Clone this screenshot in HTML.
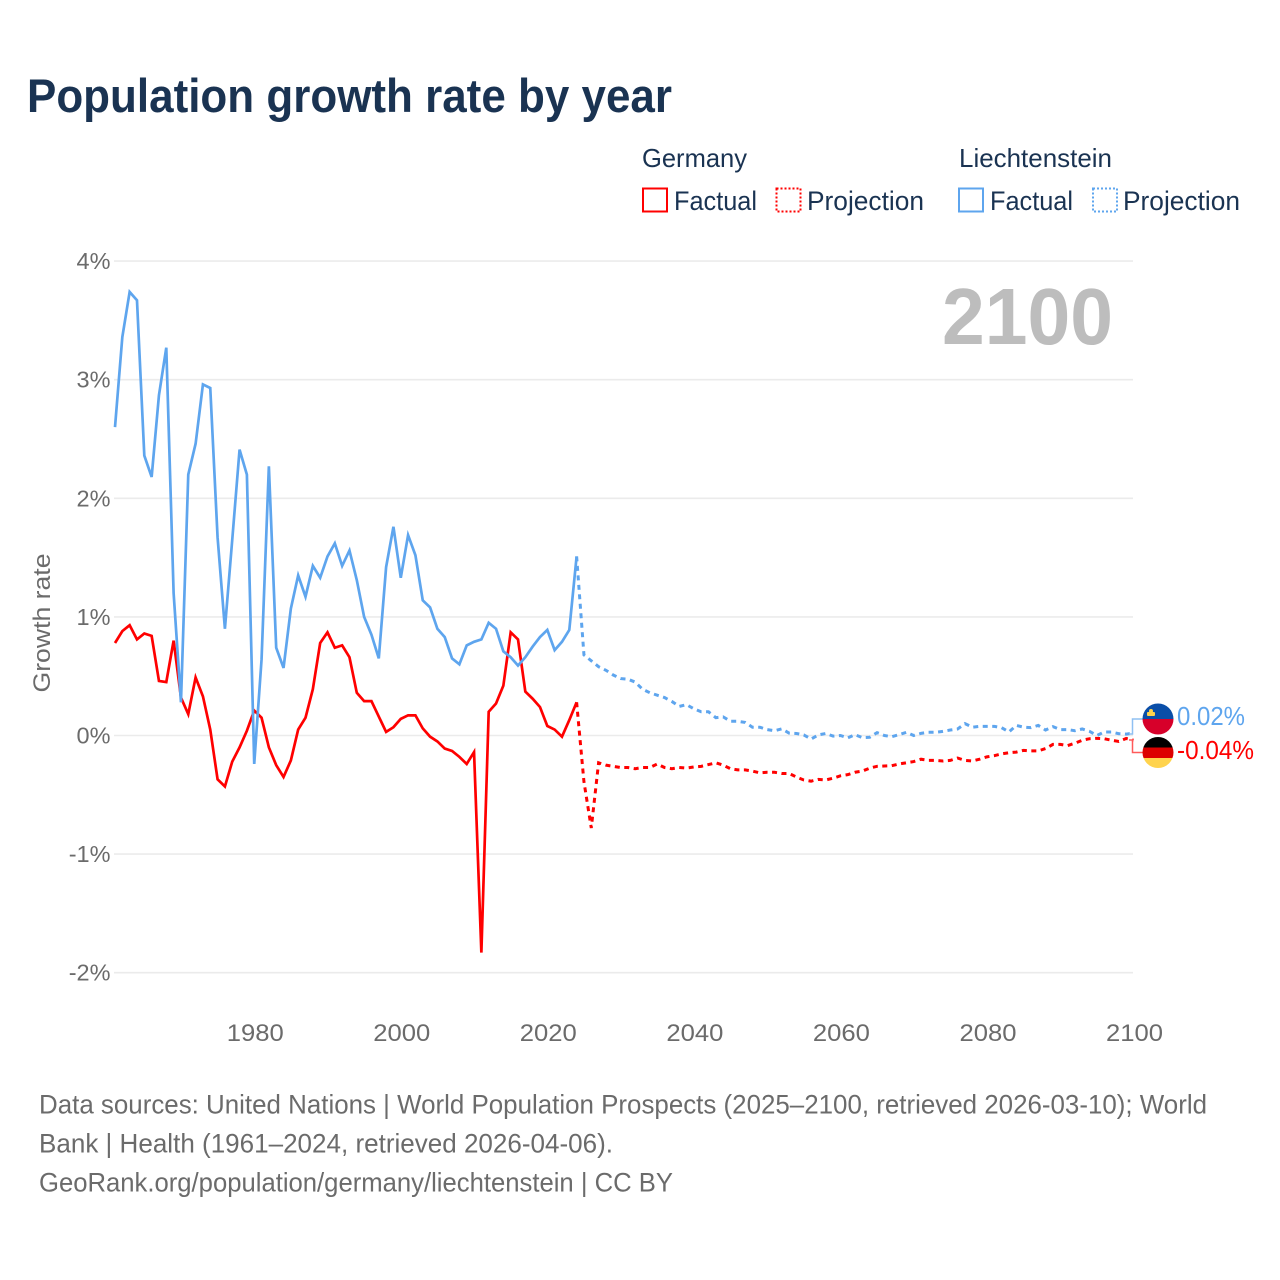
<!DOCTYPE html>
<html lang="en">
<head>
<meta charset="utf-8">
<title>Population growth rate by year</title>
<style>
  html, body { margin: 0; padding: 0; background: #fff; }
  svg { display: block; }
  text { font-family: "Liberation Sans", sans-serif; }
</style>
</head>
<body>
<svg id="chart" xmlns="http://www.w3.org/2000/svg" width="1280" height="1280" viewBox="0 0 1280 1280">
  <defs>
    <clipPath id="li-clip"><circle cx="1158" cy="719" r="15.5"/></clipPath>
    <clipPath id="de-clip"><circle cx="1158" cy="752.5" r="15.5"/></clipPath>
  </defs>

  <text x="27" y="112" font-size="47" font-weight="700" fill="#1a3352" textLength="645" lengthAdjust="spacingAndGlyphs">Population growth rate by year</text>

  <text x="642" y="167" font-size="26" fill="#1a3352" textLength="105" lengthAdjust="spacingAndGlyphs">Germany</text>
  <text x="959" y="167" font-size="26" fill="#1a3352" textLength="153" lengthAdjust="spacingAndGlyphs">Liechtenstein</text>

  <g>
    <rect x="643" y="188.5" width="24" height="23" fill="none" stroke="#ff0000" stroke-width="2"/>
    <text x="674" y="210" font-size="27" fill="#1a3352" textLength="83" lengthAdjust="spacingAndGlyphs">Factual</text>
  </g>
  <g>
    <rect x="776.5" y="188.5" width="24" height="23" fill="none" stroke="#ff0000" stroke-width="2" stroke-dasharray="2 2"/>
    <text x="807" y="210" font-size="27" fill="#1a3352" textLength="117" lengthAdjust="spacingAndGlyphs">Projection</text>
  </g>
  <g>
    <rect x="959" y="188.5" width="24" height="23" fill="none" stroke="#5ea5ee" stroke-width="2"/>
    <text x="990" y="210" font-size="27" fill="#1a3352" textLength="83" lengthAdjust="spacingAndGlyphs">Factual</text>
  </g>
  <g>
    <rect x="1093" y="188.5" width="24" height="23" fill="none" stroke="#5ea5ee" stroke-width="2" stroke-dasharray="2 2"/>
    <text x="1123" y="210" font-size="27" fill="#1a3352" textLength="117" lengthAdjust="spacingAndGlyphs">Projection</text>
  </g>

  <g id="grid"></g>
  <g id="y-ticks"></g>
  <g id="x-ticks"></g>

  <text transform="translate(50,623) rotate(-90)" text-anchor="middle" font-size="24" fill="#6b6b6b" textLength="139" lengthAdjust="spacingAndGlyphs">Growth rate</text>

  <text x="1113" y="344" text-anchor="end" font-size="80" font-weight="700" fill="#bdbdbd" textLength="171" lengthAdjust="spacingAndGlyphs">2100</text>

  <g id="series"></g>

  <polyline points="1129,734 1132.5,734 1132.5,719 1143,719" fill="none" stroke="#8fc0f2" stroke-width="1.5"/>
  <polyline points="1129,740 1132.5,740 1132.5,752.5 1143,752.5" fill="none" stroke="#ff5a5a" stroke-width="1.5"/>

  <g clip-path="url(#li-clip)">
    <rect x="1142" y="703" width="32" height="16" fill="#0a4ea8"/>
    <rect x="1142" y="719" width="32" height="16" fill="#d7002a"/>
    <rect x="1147" y="712" width="8" height="4" rx="1" fill="#ffd34d"/>
    <circle cx="1151" cy="711" r="2" fill="#ffd34d"/>
  </g>
  <g clip-path="url(#de-clip)">
    <rect x="1142" y="737" width="32" height="10.5" fill="#000000"/>
    <rect x="1142" y="747.5" width="32" height="10.5" fill="#dd0000"/>
    <rect x="1142" y="758" width="32" height="11" fill="#ffd34d"/>
  </g>

  <text x="1177" y="725" font-size="26" fill="#5ea5ee" textLength="68" lengthAdjust="spacingAndGlyphs">0.02%</text>
  <text x="1177" y="759" font-size="26" fill="#ff0000" textLength="77" lengthAdjust="spacingAndGlyphs">-0.04%</text>

  <text x="39" y="1113.5" font-size="27" fill="#6b6b6b" textLength="1168" lengthAdjust="spacingAndGlyphs">Data sources: United Nations | World Population Prospects (2025–2100, retrieved 2026-03-10); World</text>
  <text x="39" y="1152.5" font-size="27" fill="#6b6b6b" textLength="574" lengthAdjust="spacingAndGlyphs">Bank | Health (1961–2024, retrieved 2026-04-06).</text>
  <text x="39" y="1191.5" font-size="27" fill="#6b6b6b" textLength="634" lengthAdjust="spacingAndGlyphs">GeoRank.org/population/germany/liechtenstein | CC BY</text>
</svg>

<script>
const factualStartYear = 1961;
const projectionStartYear = 2024;

const germanyFactual = [
  0.78, 0.88, 0.93, 0.81, 0.86, 0.84, 0.46, 0.45, 0.80, 0.32,
  0.18, 0.49, 0.33, 0.05, -0.37, -0.43, -0.22, -0.10, 0.04, 0.21,
  0.15, -0.10, -0.25, -0.35, -0.21, 0.05, 0.15, 0.39, 0.78, 0.87,
  0.74, 0.76, 0.66, 0.36, 0.29, 0.29, 0.16, 0.03, 0.07, 0.14,
  0.17, 0.17, 0.06, -0.01, -0.05, -0.11, -0.13, -0.18, -0.24, -0.14,
  -1.83, 0.20, 0.27, 0.42, 0.87, 0.81, 0.37, 0.31, 0.24, 0.08,
  0.05, -0.01, 0.13, 0.28
];

const liechtensteinFactual = [
  2.60, 3.36, 3.74, 3.67, 2.36, 2.18, 2.87, 3.27, 1.20, 0.28,
  2.20, 2.46, 2.96, 2.93, 1.67, 0.90, 1.65, 2.41, 2.20, -0.24,
  0.64, 2.27, 0.74, 0.57, 1.07, 1.35, 1.17, 1.43, 1.33, 1.51,
  1.62, 1.43, 1.56, 1.31, 1.00, 0.85, 0.65, 1.42, 1.76, 1.33,
  1.69, 1.52, 1.14, 1.08, 0.90, 0.83, 0.65, 0.60, 0.76, 0.79,
  0.81, 0.95, 0.90, 0.71, 0.66, 0.59, 0.66, 0.75, 0.83, 0.89,
  0.72, 0.79, 0.89, 1.51
];

const germanyProjection = [
  0.28, -0.39, -0.78, -0.23, -0.25, -0.26, -0.27, -0.27, -0.28, -0.27,
  -0.27, -0.24, -0.27, -0.28, -0.27, -0.275, -0.265, -0.26, -0.245, -0.23,
  -0.25, -0.28, -0.29, -0.29, -0.30, -0.315, -0.31, -0.31, -0.32, -0.32,
  -0.35, -0.375, -0.385, -0.37, -0.375, -0.36, -0.34, -0.33, -0.31, -0.30,
  -0.275, -0.26, -0.257, -0.255, -0.24, -0.23, -0.22, -0.20, -0.21, -0.21,
  -0.215, -0.21, -0.19, -0.21, -0.215, -0.20, -0.18, -0.17, -0.155, -0.145,
  -0.14, -0.125, -0.13, -0.13, -0.11, -0.075, -0.075, -0.085, -0.065, -0.04,
  -0.027, -0.024, -0.027, -0.04, -0.05, -0.025, -0.04
];

const liechtensteinProjection = [
  1.51, 0.68, 0.63, 0.58, 0.55, 0.51, 0.48, 0.475, 0.45, 0.39,
  0.36, 0.34, 0.32, 0.287, 0.245, 0.26, 0.225, 0.20, 0.20, 0.15,
  0.157, 0.12, 0.12, 0.11, 0.07, 0.07, 0.05, 0.04, 0.056, 0.02,
  0.017, 0.005, -0.03, 0.005, 0.017, -0.005, 0.00, -0.02, 0.007, -0.018,
  -0.015, 0.024, 0.00, -0.01, 0.007, 0.027, 0.00, 0.018, 0.027, 0.027,
  0.035, 0.046, 0.055, 0.10, 0.07, 0.077, 0.077, 0.077, 0.066, 0.03,
  0.085, 0.07, 0.066, 0.085, 0.046, 0.075, 0.05, 0.05, 0.04, 0.055,
  0.035, 0.00, 0.03, 0.03, 0.015, 0.012, 0.02
];

const yTickValues = [4, 3, 2, 1, 0, -1, -2];
const yTickLabels = ["4%", "3%", "2%", "1%", "0%", "-1%", "-2%"];
const xTickValues = [1980, 2000, 2020, 2040, 2060, 2080, 2100];
const xTickLabels = ["1980", "2000", "2020", "2040", "2060", "2080", "2100"];

const SVG_NS = "http://www.w3.org/2000/svg";
const xScale = (year) => 115 + (year - 1961) * (1133.5 - 115) / (2100 - 1961);
const yScale = (pct) => 735.5 - pct * 118.6;

const gridGroup = document.getElementById("grid");
const yTickGroup = document.getElementById("y-ticks");
const xTickGroup = document.getElementById("x-ticks");
const seriesGroup = document.getElementById("series");

yTickValues.forEach((value, i) => {
  const line = document.createElementNS(SVG_NS, "line");
  
  
  line.setAttribute("x1", 114);
  line.setAttribute("x2", 1133);
  line.setAttribute("y1", yScale(value));
  line.setAttribute("y2", yScale(value));
  line.setAttribute("stroke", "#ebebeb");
  line.setAttribute("stroke-width", 1.6);
  gridGroup.appendChild(line);

  const label = document.createElementNS(SVG_NS, "text");
  
  
  label.setAttribute("x", 110.5);
  label.setAttribute("y", yScale(value) + 8);
  label.setAttribute("text-anchor", "end");
  label.setAttribute("font-size", 23.5);
  label.setAttribute("fill", "#6b6b6b");
  label.textContent = yTickLabels[i];
  yTickGroup.appendChild(label);
});

xTickValues.forEach((value, i) => {
  const label = document.createElementNS(SVG_NS, "text");
  
  
  label.setAttribute("x", xScale(value) + 1);
  label.setAttribute("y", 1041);
  label.setAttribute("text-anchor", "middle");
  label.setAttribute("font-size", 24);
  label.setAttribute("fill", "#6b6b6b");
  label.setAttribute("textLength", 57);
  label.setAttribute("lengthAdjust", "spacingAndGlyphs");
  label.textContent = xTickLabels[i];
  xTickGroup.appendChild(label);
});

function drawSeries(values, startYear, color, dash, name) {
  const path = document.createElementNS(SVG_NS, "path");
  
  
  const d = values.map((v, i) => (i ? "L" : "M") + xScale(startYear + i).toFixed(2) + " " + yScale(v).toFixed(2)).join(" ");
  path.setAttribute("d", d);
  path.setAttribute("fill", "none");
  path.setAttribute("stroke", color);
  path.setAttribute("stroke-width", dash ? 3 : 2.7);
  path.setAttribute("stroke-linejoin", "miter");
  if (dash) path.setAttribute("stroke-dasharray", dash);
  seriesGroup.appendChild(path);
}

drawSeries(germanyFactual, factualStartYear, "#ff0000", null, "germany-factual-line");
drawSeries(germanyProjection, projectionStartYear, "#ff0000", "5 4.5", "germany-projection-line");
drawSeries(liechtensteinFactual, factualStartYear, "#5ea5ee", null, "liechtenstein-factual-line");
drawSeries(liechtensteinProjection, projectionStartYear, "#5ea5ee", "5 4.5", "liechtenstein-projection-line");
</script>
</body>
</html>
